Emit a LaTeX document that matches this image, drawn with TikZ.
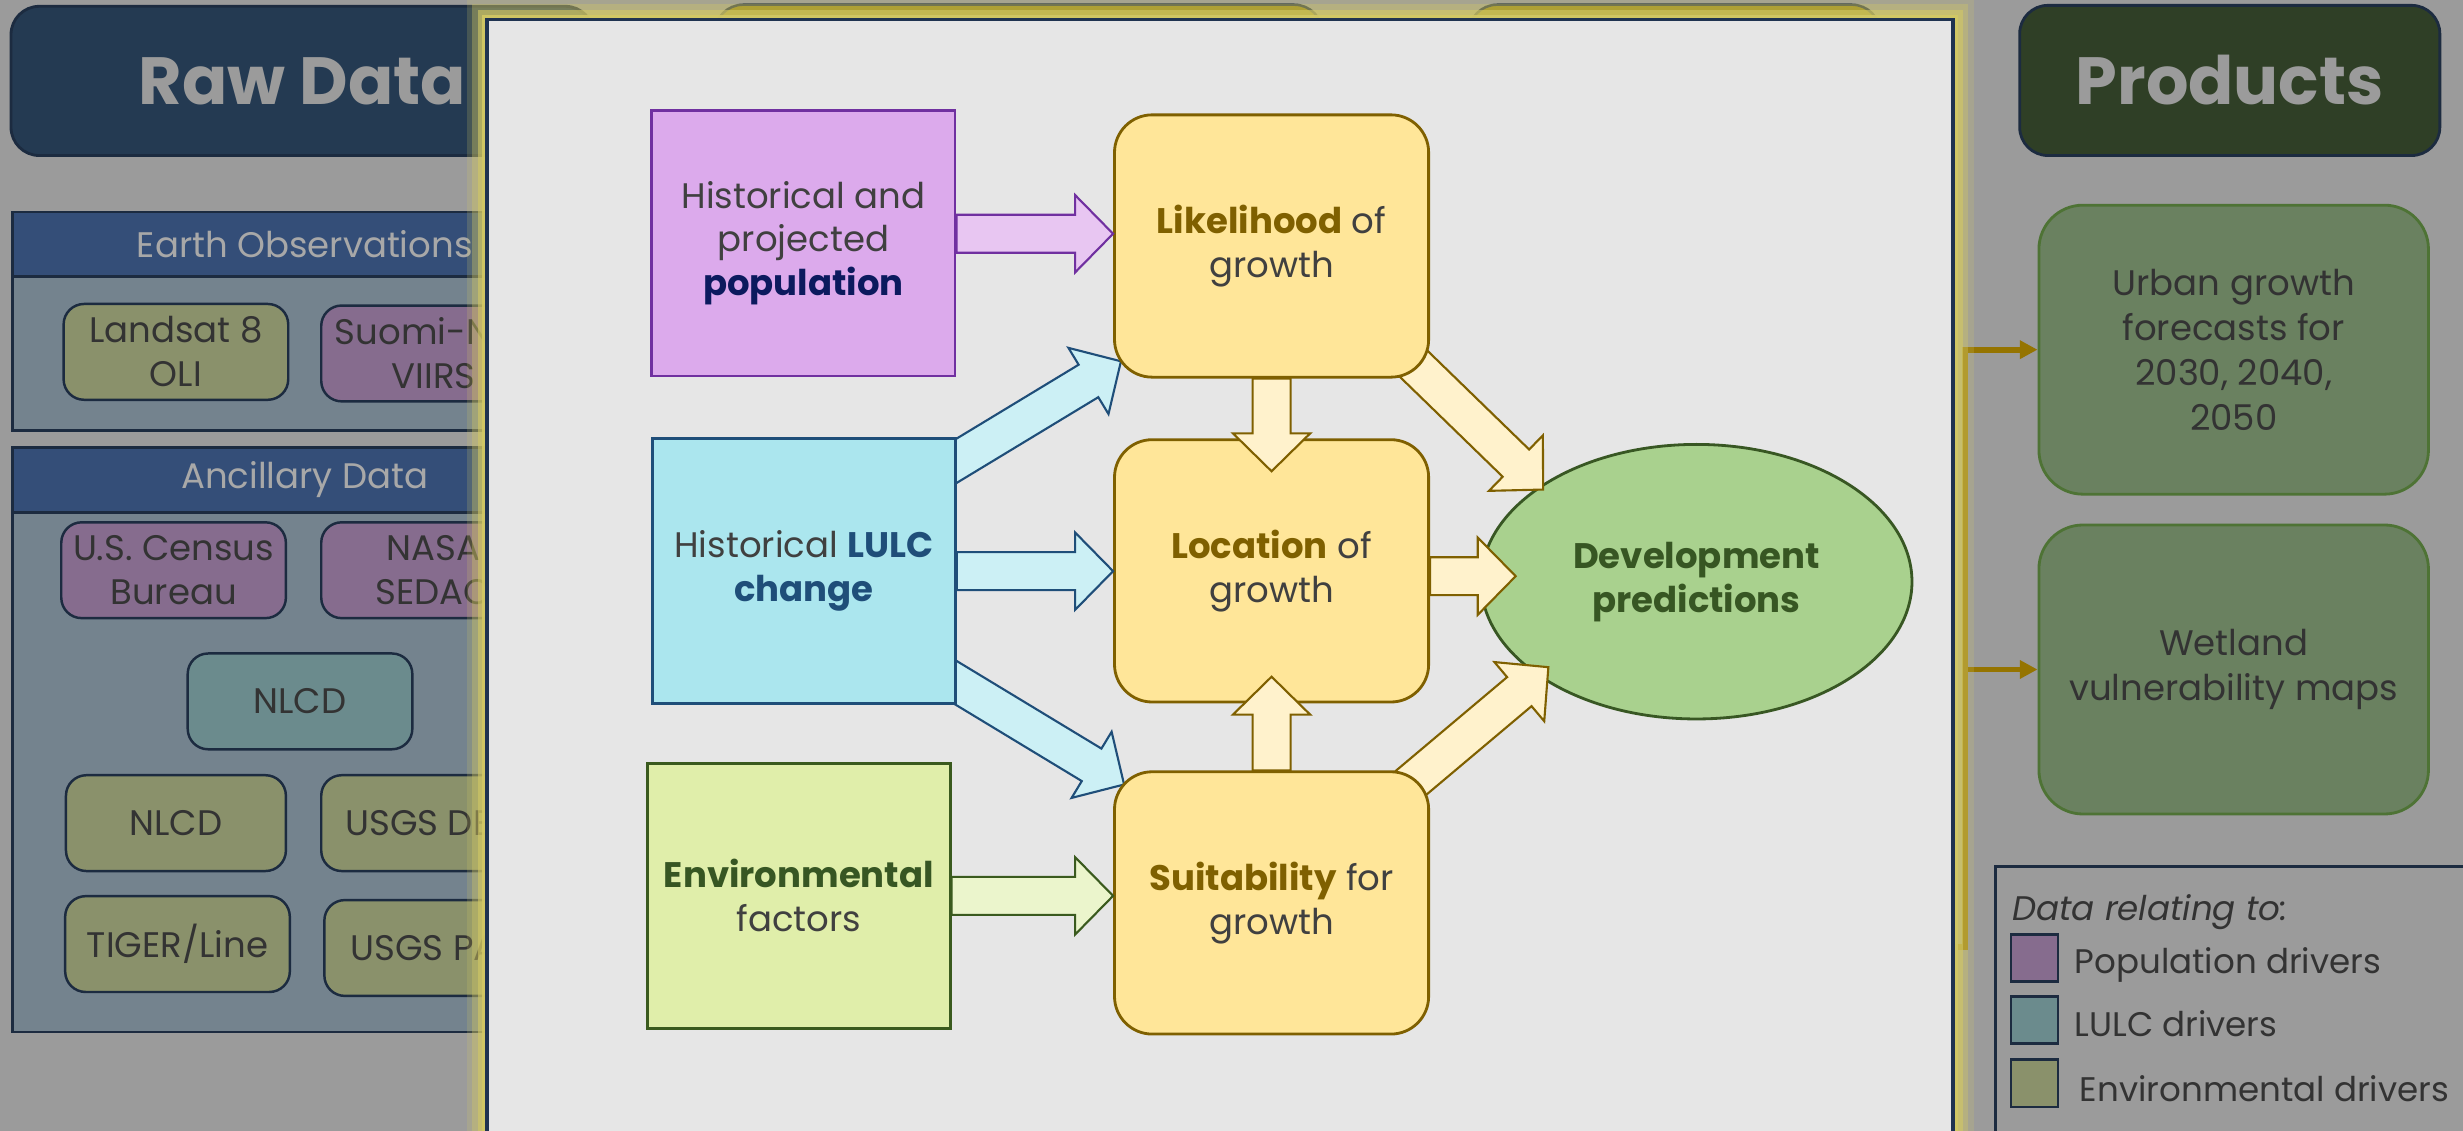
\documentclass[tikz,border=0pt]{standalone}
\usepackage{fontspec}
\setmainfont{Poppins}
\usetikzlibrary{calc,shapes.geometric,arrows.meta}
\pgfdeclarelayer{front}
\pgfsetlayers{main,front}

\definecolor{bggray}{HTML}{9B9B9B}
\definecolor{rawnavy}{HTML}{243A52}
\definecolor{prodgreen}{HTML}{2F3F26}
\definecolor{headblue}{HTML}{344E78}
\definecolor{panelbody}{HTML}{74838E}
\definecolor{dimline}{HTML}{1C2B40}
\definecolor{dimtext}{HTML}{333333}
\definecolor{headtext}{HTML}{A8A8A8}
\definecolor{dimolive}{HTML}{8A916B}
\definecolor{dimpurple}{HTML}{866C8E}
\definecolor{dimteal}{HTML}{6B8B8D}
\definecolor{tabgold}{HTML}{8F7E0B}
\definecolor{prodfill}{HTML}{6A8160}
\definecolor{prodline}{HTML}{4E7335}
\definecolor{feedgold}{HTML}{957400}
\definecolor{glowc}{HTML}{D2C864}
\definecolor{zoomfill}{HTML}{E6E6E6}
\definecolor{zoomline}{HTML}{1F3350}
\definecolor{intext}{HTML}{404040}
\definecolor{popfill}{HTML}{DCAAEC}
\definecolor{popline}{HTML}{7030A0}
\definecolor{poparrow}{HTML}{E8C6F2}
\definecolor{popword}{HTML}{0C1A5E}
\definecolor{lulcfill}{HTML}{ABE6EE}
\definecolor{lulcline}{HTML}{1F4E79}
\definecolor{lulcarrow}{HTML}{CCF0F5}
\definecolor{envfill}{HTML}{E0EEAA}
\definecolor{envline}{HTML}{3A5A1E}
\definecolor{envarrow}{HTML}{EBF5CC}
\definecolor{envword}{HTML}{375623}
\definecolor{growfill}{HTML}{FFE699}
\definecolor{growline}{HTML}{7F6000}
\definecolor{growarrow}{HTML}{FFF2CC}
\definecolor{devfill}{HTML}{A9D18E}
\definecolor{devline}{HTML}{385723}

\newcommand{\upx}{0.4469pt}
\newcommand{\boxfont}{\fontsize{10.1pt}{12.5pt}\selectfont}
\newcommand{\legfont}{\fontsize{9.7pt}{12pt}\selectfont}
\newcommand{\shaftw}{5.4pt}
\newcommand{\headw}{11pt}
\newcommand{\headlen}{10.8pt}
\newcommand{\blockarrow}[3][]{%
  \coordinate (bah) at ($(#3)!\headlen!(#2)$);
  \draw[#1] ($(#2)!\shaftw!90:(#3)$) -- ($(bah)!\shaftw!-90:(#2)$)
    -- ($(bah)!\headw!-90:(#2)$) -- (#3) -- ($(bah)!\headw!90:(#2)$)
    -- ($(bah)!\shaftw!90:(#2)$) -- ($(#2)!\shaftw!-90:(#3)$) -- cycle;}

\begin{document}
\begin{tikzpicture}[
  x=0.15708mm, y=-0.15708mm,
  title/.style={draw=dimline, line width=0.8pt, rounded corners=18*\upx, text=bggray,
    font=\fontsize{19pt}{22pt}\selectfont\bfseries, inner sep=0pt},
  panel/.style={draw=dimline, line width=0.8pt, fill=panelbody, minimum width=372*\upx, inner sep=0pt},
  panelhd/.style={draw=dimline, line width=0.8pt, fill=headblue, minimum width=372*\upx,
    minimum height=41*\upx, text=headtext, font=\boxfont, inner sep=0pt},
  dimbox/.style={draw=dimline, line width=0.7pt, rounded corners=13*\upx, minimum width=143*\upx,
    minimum height=61*\upx, align=center, text=dimtext, font=\boxfont, inner sep=0pt},
  tabbox/.style={draw=dimline, line width=0.7pt, fill=tabgold, rounded corners=18*\upx,
    minimum height=77*\upx, inner sep=0pt},
  prodbox/.style={draw=prodline, line width=0.8pt, fill=prodfill, rounded corners=28*\upx,
    minimum width=248*\upx, minimum height=184*\upx, align=center, text=dimtext,
    font=\fontsize{10.1pt}{12.8pt}\selectfont, inner sep=0pt},
  feedline/.style={draw=feedgold, line width=1.7pt, -{Triangle[length=5pt,width=5pt]}},
  legsq/.style={draw=dimline, line width=0.8pt, minimum size=30*\upx, inner sep=0pt},
  legtext/.style={anchor=base west, text=dimtext, font=\legfont, inner sep=0pt},
  inbox/.style={line width=0.8pt, minimum width=193*\upx, minimum height=169*\upx, align=center,
    text=intext, font=\boxfont, inner sep=0pt},
  growbox/.style={draw=growline, fill=growfill, line width=0.8pt, rounded corners=24*\upx,
    minimum width=200*\upx, minimum height=167*\upx, align=center, text=intext, font=\boxfont,
    inner sep=0pt},
  popar/.style={draw=popline, fill=poparrow, line width=0.6pt},
  lulcar/.style={draw=lulcline, fill=lulcarrow, line width=0.6pt},
  envar/.style={draw=envline, fill=envarrow, line width=0.6pt},
  growar/.style={draw=growline, fill=growarrow, line width=0.6pt}
]
  \useasboundingbox (0,0) rectangle (1568,720);
  \fill[bggray] (0,0) rectangle (1568,720);

  % raw data column
  \node[title, fill=rawnavy, minimum width=371*\upx, minimum height=95*\upx] (rawdata) at (192.5,51.5) {Raw Data};
  \node[panel, minimum height=139*\upx] (eopanel) at (194,204.5) {};
  \node[panelhd] (eohead) at (194,155.5) {Earth Observations};
  \node[dimbox, fill=dimolive] (landsat) at (112,224) {Landsat 8\\OLI};
  \node[dimbox, fill=dimpurple] (viirs) at (276,225) {Suomi-NPP\\VIIRS};
  \node[panel, minimum height=372*\upx] (ancpanel) at (194,471) {};
  \node[panelhd] (anchead) at (194,305.5) {Ancillary Data};
  \node[dimbox, fill=dimpurple] (census) at (110.5,363) {U.S. Census\\Bureau};
  \node[dimbox, fill=dimpurple] (sedac) at (276,363) {NASA\\SEDAC};
  \node[dimbox, fill=dimteal] (nlcdlulc) at (191,446.5) {NLCD};
  \node[dimbox, fill=dimolive, minimum width=140*\upx] (nlcdenv) at (112,524) {NLCD};
  \node[dimbox, fill=dimolive] (dem) at (276,524) {USGS DEM};
  \node[dimbox, fill=dimolive] (tiger) at (113,601) {TIGER/Line};
  \node[dimbox, fill=dimolive] (padus) at (278,603.5) {USGS PAD};

  % hidden headers
  \node[tabbox, minimum width=387*\upx] (tabmid) at (648.5,41.5) {};
  \node[tabbox, minimum width=262*\upx] (tabright) at (1066,41.5) {};

  % products column
  \node[title, fill=prodgreen, minimum width=267.5*\upx, minimum height=95.6*\upx] (products) at (1419.5,51.2) {Products};
  \node[prodbox] (urban) at (1422,222.6) {Urban growth\\forecasts for\\2030, 2040,\\2050};
  \node[prodbox] (wetland) at (1422,426.2) {Wetland\\vulnerability maps};
  \coordinate (hub) at (1230,603);
  \coordinate (bend) at (1251,603);
  \draw[feedline] (hub) -- (bend) |- (urban.west);
  \draw[feedline] (bend |- wetland.west) -- (wetland.west);

  % legend
  \node[draw=dimline, line width=0.8pt, minimum width=340*\upx, minimum height=190*\upx, inner sep=0pt] (legend) at (1440.5,646.7) {};
  \node[legtext, font=\legfont\itshape] (legtitle) at (1280.6,585.7) {Data relating to:};
  \node[legsq, fill=dimpurple] (sqpop) at (1295.2,610) {};
  \node[legsq, fill=dimteal] (sqlulc) at (1295.2,649.3) {};
  \node[legsq, fill=dimolive] (sqenv) at (1295.2,689.7) {};
  \node[legtext] (legpop) at (1320.3,620) {Population drivers};
  \node[legtext] (leglulc) at (1320.3,660) {LULC drivers};
  \node[legtext] (legenv) at (1323.7,701) {Environmental drivers};

  % zoomed panel
  \path node[minimum width=932.5*\upx, minimum height=740*\upx, inner sep=0pt] (zoombox) at (776.75,382.7) {};
  \foreach \gw/\gop in {26/0.2, 19/0.35, 12/0.6, 6/0.9}
    \draw[glowc, line width=\gw*\upx, opacity=\gop] (zoombox.north west) rectangle (zoombox.south east);
  \draw[zoomline, fill=zoomfill, line width=1pt] (zoombox.north west) rectangle (zoombox.south east);

  % outcome
  \node[ellipse, draw=devline, fill=devfill, line width=0.8pt, minimum width=274.4*\upx, minimum height=174.8*\upx,
    align=center, text=envword, font=\boxfont\bfseries, inner sep=0pt] (dev) at (1080,370.3) {Development\\predictions};

  \begin{pgfonlayer}{front}
  % drivers
  \node[inbox, draw=popline, fill=popfill] (pop) at (511.5,154.8) {Historical and\\projected\\\textbf{\color{popword}population}};
  \node[inbox, draw=lulcline, fill=lulcfill] (lulc) at (511.8,363.6) {Historical \textbf{\color{lulcline}LULC}\\\textbf{\color{lulcline}change}};
  \node[inbox, draw=envline, fill=envfill, minimum width=192.6*\upx] (env) at (508.6,570.3) {\textbf{\color{envword}Environmental}\\factors};

  % growth stages
  \node[growbox] (lik) at (809.5,156.6) {\textbf{\color{growline}Likelihood} of\\growth};
  \node[growbox] (loc) at (809.5,363.4) {\textbf{\color{growline}Location} of\\growth};
  \node[growbox] (suit) at (809.5,574.8) {\textbf{\color{growline}Suitability} for\\growth};

  % straight arrows
  \coordinate (popout) at ($(pop.east)+(0,-6)$);
  \coordinate (likin) at (popout -| lik.west);
  \blockarrow[popar]{popout}{likin}
  \coordinate (locin) at (lulc.east -| loc.west);
  \blockarrow[lulcar]{lulc.east}{locin}
  \coordinate (suitin) at (env.east -| suit.west);
  \blockarrow[envar]{env.east}{suitin}
  \coordinate (locup) at ($(loc.north)+(0,21)$);
  \blockarrow[growar]{lik.south}{locup}
  \coordinate (locdown) at ($(loc.south)+(0,-17)$);
  \blockarrow[growar]{suit.north}{locdown}
  \coordinate (devin) at ($(dev.west)+(23,-3.5)$);
  \coordinate (locout) at (loc.east |- devin);
  \blockarrow[growar]{locout}{devin}
  \end{pgfonlayer}

  % diagonal arrows, under the boxes
  \coordinate (lulcup) at ($(lulc.north east)+(0,15)$);
  \coordinate (likcorner) at ($(lik.south west)+(5,-11)$);
  \coordinate (lulcup0) at ($(lulcup)!-15pt!(likcorner)$);
  \coordinate (lulcdown) at ($(lulc.south east)+(0,-14)$);
  \coordinate (suitcorner) at ($(suit.north west)+(7,9)$);
  \coordinate (lulcdown0) at ($(lulcdown)!-15pt!(suitcorner)$);
  \coordinate (likout) at ($(lik.south east)+(-10,-9)$);
  \coordinate (devhigh) at ($(dev.center)!0.97!(dev.149)$);
  \coordinate (likout0) at ($(likout)!-15pt!(devhigh)$);
  \coordinate (suitout) at ($(suit.north east)+(-11,7)$);
  \coordinate (devlow) at ($(dev.center)!0.92!(dev.210)$);
  \coordinate (suitout0) at ($(suitout)!-15pt!(devlow)$);
  \blockarrow[lulcar]{lulcup0}{likcorner}
  \blockarrow[lulcar]{lulcdown0}{suitcorner}
  \blockarrow[growar]{likout0}{devhigh}
  \blockarrow[growar]{suitout0}{devlow}
\end{tikzpicture}
\end{document}
